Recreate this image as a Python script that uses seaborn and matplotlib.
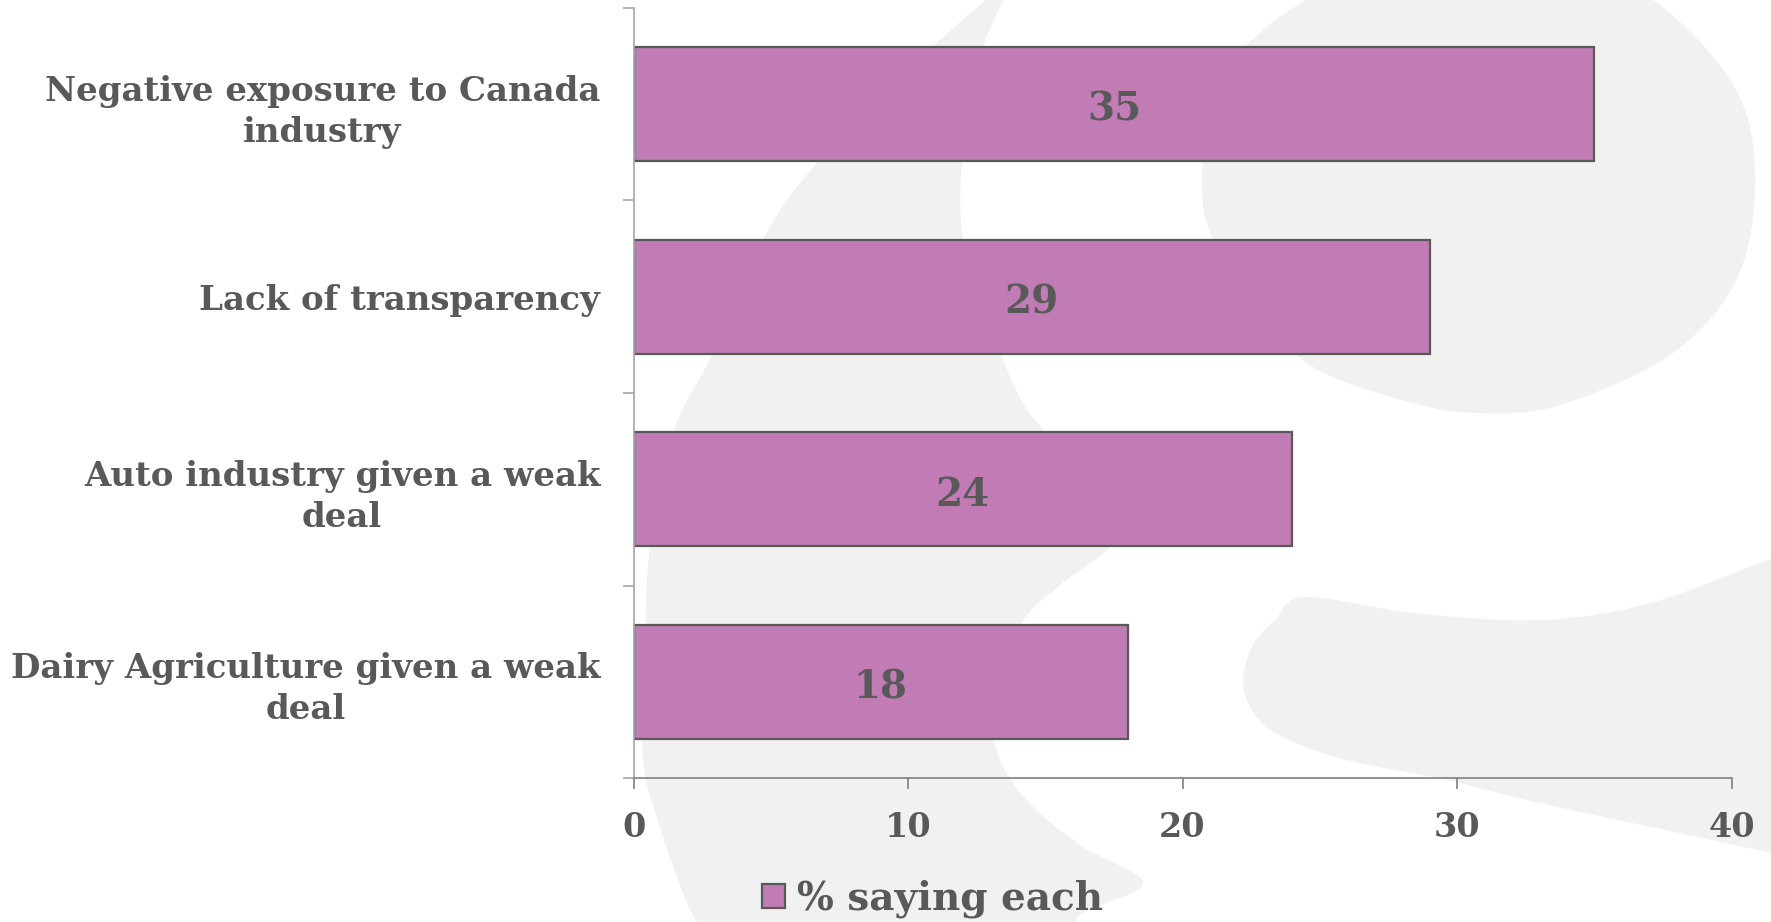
import numpy as np
import matplotlib
matplotlib.use('Agg')
import matplotlib.pyplot as plt
from matplotlib.patches import Patch
import seaborn as sns

# data
categories = ['Negative exposure to Canada\nindustry',
              'Lack of transparency',
              'Auto industry given a weak\ndeal',
              'Dairy Agriculture given a weak\ndeal']
values = [35, 29, 24, 18]
series_name = '% saying each'
x_ticks = [0, 10, 20, 30, 40]

bar_color = '#C17BB5'
text_color = '#595959'
wm_color = '#F1F1F1'

sns.set_style('white')
plt.rcParams['font.family'] = ['DejaVu Serif']
plt.rcParams['font.weight'] = 'bold'

W, H = 1771, 922
fig = plt.figure(figsize=(W / 100, H / 100), dpi=100)


# background watermark (big light grey letter shape), pixel coords
def smooth(pts, n=16):
    p = np.array(pts, float)
    out = []
    for i in range(len(p)):
        p0, p1, p2, p3 = p[i - 1], p[i], p[(i + 1) % len(p)], p[(i + 2) % len(p)]
        t = np.linspace(0, 1, n, endpoint=False)[:, None]
        out.append(0.5 * (2 * p1 + (-p0 + p2) * t + (2 * p0 - 5 * p1 + 4 * p2 - p3) * t ** 2
                          + (-p0 + 3 * p1 - 3 * p2 + p3) * t ** 3))
    return np.vstack(out)


band = [(1004, -10), (983, 47), (965, 130), (963, 240), (1000, 353), (1047, 433),
        (1150, 490), (1110, 547), (1060, 585), (1020, 625), (997, 693), (995, 745),
        (1022, 795), (1080, 845), (1143, 883), (1080, 915), (1040, 960),
        (720, 960), (697, 922), (683, 893), (660, 827), (643, 760), (645, 650),
        (650, 547), (673, 433), (713, 353), (763, 240), (817, 163), (937, 43)]
bowl = [(1207, 133), (1230, 67), (1260, 33), (1290, 10), (1330, -10), (1450, -40),
        (1580, -30), (1660, 5), (1735, 88), (1755, 176), (1738, 276), (1673, 353),
        (1560, 405), (1480, 413), (1413, 403), (1313, 367), (1247, 300), (1210, 233),
        (1202, 183)]
hook = [(1305, 597), (1413, 613), (1540, 620), (1650, 603), (1771, 559), (1830, 540),
        (1830, 870), (1771, 853), (1540, 803), (1447, 780), (1347, 760), (1283, 737),
        (1253, 712), (1243, 680), (1253, 645), (1275, 620)]

bg = fig.add_axes([0, 0, 1, 1], zorder=-1)
bg.set_xlim(0, W)
bg.set_ylim(H, 0)
bg.axis('off')
for shape in (band, bowl, hook):
    s = smooth(shape)
    bg.fill(s[:, 0], s[:, 1], color=wm_color, lw=0)

# main chart
ax = fig.add_axes([633.6 / W, 1 - 778 / H, (1731.5 - 633.6) / W, (778 - 8) / H])
ax.patch.set_alpha(0)
sns.barplot(x=values, y=categories, orient='h', color=bar_color, saturation=1,
            edgecolor=text_color, linewidth=1.6, width=0.59, ax=ax)

labels = ax.bar_label(ax.containers[0], label_type='center', fontsize=28,
                      color=text_color, fontweight='bold')
for t in labels:
    t.xyann = (0, -4)

ax.set_xlim(0, 40)
ax.set_ylim(3.5, -0.5)
ax.set_xticks(x_ticks)
ax.set_yticks([-0.5, 0.5, 1.5, 2.5, 3.5], minor=True)
ax.set_xlabel('')
ax.set_ylabel('')
sns.despine(ax=ax)
ax.spines['left'].set_color('#A6A6A6')
ax.spines['bottom'].set_color('#7F7F7F')
ax.spines['left'].set_linewidth(1.2)
ax.spines['bottom'].set_linewidth(1.2)

ax.tick_params(axis='y', which='major', left=True, length=0, pad=24, labelsize=24.5,
               labelcolor=text_color)
ax.tick_params(axis='y', which='minor', left=True, length=8, width=1.2, color='#A6A6A6',
               direction='out')
ax.tick_params(axis='x', which='major', bottom=True, length=8, width=1.2, color='#7F7F7F',
               direction='out', pad=16, labelsize=24, labelcolor=text_color)
for lbl in ax.get_yticklabels():
    lbl.set_multialignment('center')
    lbl.set_linespacing(1.3)

handle = Patch(facecolor=bar_color, edgecolor=text_color, linewidth=1.6)
fig.legend([handle], [series_name], loc='center', bbox_to_anchor=(932 / W, 1 - 899 / H),
           frameon=False, fontsize=28, handlelength=0.6, handleheight=0.6,
           handletextpad=0.3, labelcolor=text_color)

fig.savefig('out.png', dpi=100)
